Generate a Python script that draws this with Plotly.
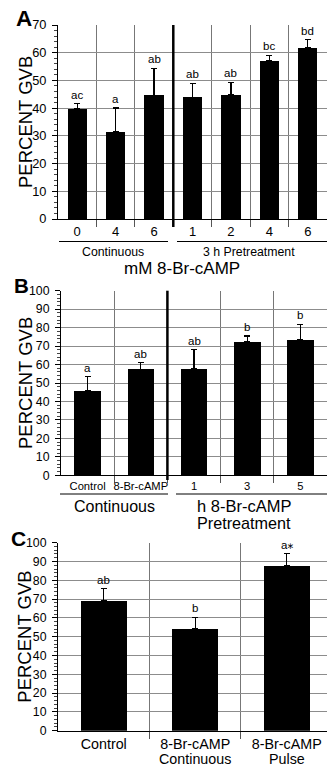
import plotly.graph_objects as go

# ---------------- data ----------------
A_labels = ["0", "4", "6", "1", "2", "4", "6"]
A_vals = [39.7, 31.5, 44.6, 43.9, 44.9, 57.1, 61.8]
A_err = [1.9, 8.5, 9.8, 5.1, 4.4, 1.9, 2.9]
A_letters = ["ac", "a", "ab", "ab", "ab", "bc", "bd"]

B_labels = ["Control", "8-Br-cAMP", "1", "3", "5"]
B_vals = [46.0, 57.5, 58.0, 72.3, 73.3]
B_err = [7.4, 3.5, 10.0, 3.2, 8.5]
B_letters = ["a", "ab", "ab", "b", "b"]

C_labels = ["Control", "8-Br-cAMP", "8-Br-cAMP"]
C_labels_line2 = ["", "Continuous", "Pulse"]
C_vals = [69.0, 54.5, 87.6]
C_err = [6.5, 5.8, 6.6]
C_letters = ["ab", "b", "a⁎"]

W, H = 327, 767
FONT = "Liberation Sans, Arial, DejaVu Sans, sans-serif"


def px(p):
    return p / W


def py(p):
    return 1 - p / H


def label(fig, x, y, text, size, xref="paper", angle=0):
    fig.add_annotation(x=x, y=y, xref=xref, yref="paper", text=text, textangle=angle,
                       showarrow=False, xanchor="center", yanchor="middle",
                       font=dict(size=size, color="black", family=FONT))


fig = go.Figure()

panels = [
    # name, labels, vals, err, letters, xdom_left, ytop, ybot, ymax, xmax, xtickfont, ytickfont
    ("A", A_labels, A_vals, A_err, A_letters, 58, 25, 219, 70, 6.5, 13, 12.8),
    ("B", B_labels, B_vals, B_err, B_letters, 61, 290.7, 475.3, 100, 4.5, 11.2, 12.3),
    ("C", C_labels, C_vals, C_err, C_letters, 58, 542.7, 730.7, 100, 2.44, 14.3, 12.3),
]

layout_axes = {}
for i, (name, labels, vals, err, letters, xl, yt, yb, ymax, xmax, tf, ytf) in enumerate(panels):
    n = len(labels)
    xs = list(range(n))
    suffix = "" if i == 0 else str(i + 1)
    xa = "x" + suffix
    ya = "y" + suffix
    fig.add_trace(go.Bar(
        x=xs, y=vals, width=0.5, marker=dict(color="black", line=dict(width=0)),
        error_y=dict(type="data", array=err, arrayminus=[0] * n, symmetric=False,
                     color="black", thickness=1.3, width=3),
        xaxis=xa, yaxis=ya, showlegend=False, hoverinfo="skip",
    ))
    for j in range(n):
        fig.add_annotation(x=xs[j], y=vals[j] + err[j], xref=xa, yref=ya,
                           text=letters[j], showarrow=False, xanchor="center",
                           yanchor="bottom", yshift=1,
                           font=dict(size=11.5, color="black", family=FONT))
    layout_axes["xaxis" + suffix] = dict(
        domain=[px(xl), 1], anchor=ya, range=[-0.5, xmax], automargin=False,
        tickmode="array", tickvals=xs, ticktext=labels, ticks="",
        showgrid=False, zeroline=False, showline=True, linecolor="black", linewidth=1,
        tickfont=dict(size=tf, color="black", family=FONT),
        minor=dict(tickmode="array", tickvals=[k + 0.5 for k in range(n - 1)],
                   ticks="outside", ticklen=7, tickcolor="#555", showgrid=True,
                   gridcolor="#777", gridwidth=1),
        fixedrange=True,
    )
    layout_axes["yaxis" + suffix] = dict(
        domain=[py(yb), py(yt)], anchor=xa, range=[0, ymax], automargin=False,
        tickmode="linear", dtick=10, ticks="outside", ticklen=5, tickcolor="black",
        ticklabelstandoff=3,
        showgrid=True, gridcolor="#8c8c8c", gridwidth=1, zeroline=False,
        showline=True, linecolor="black", linewidth=1,
        tickfont=dict(size=ytf, color="black", family=FONT),
        minor=dict(dtick=2, ticks="outside", ticklen=3, tickcolor="#444", showgrid=False),
        fixedrange=True,
    )
    # y title
    label(fig, px(25), py((yt + yb) / 2), "PERCENT GVB", 18.5, angle=-90)
    # panel letter
    lt = {"A": (23.5, 18, 22.5), "B": (21.5, 285, 20.5), "C": (18.5, 538, 21)}[name]
    label(fig, px(lt[0]), py(lt[1]), "<b>" + name + "</b>", lt[2])

fig.update_layout(**layout_axes)

# second line of panel C category labels
for j, t in enumerate(C_labels_line2):
    if t:
        label(fig, j, py(759), t, 14.3, xref="x3")

# separators (thick vertical lines)
fig.add_shape(type="line", xref="x", yref="paper", x0=2.5, x1=2.5, y0=py(227), y1=py(25),
              line=dict(color="black", width=2.5))
fig.add_shape(type="line", xref="x2", yref="paper", x0=1.5, x1=1.5, y0=py(480), y1=py(290.7),
              line=dict(color="black", width=2.5))

# group underlines and labels, panel A
for (x0, x1) in [(59, 168), (177, 327)]:
    fig.add_shape(type="line", xref="paper", yref="paper", x0=px(x0), x1=px(x1),
                  y0=py(241.5), y1=py(241.5), line=dict(color="black", width=1))
label(fig, px(113), py(252), "Continuous", 12.3)
label(fig, px(249), py(252), "3 h Pretreatment", 12.3)
label(fig, px(181.5), py(268), "mM 8-Br-cAMP", 17)

# group underlines and labels, panel B
for (x0, x1) in [(60, 168), (176, 327)]:
    fig.add_shape(type="line", xref="paper", yref="paper", x0=px(x0), x1=px(x1),
                  y0=py(494), y1=py(494), line=dict(color="black", width=1))
label(fig, px(114), py(506.5), "Continuous", 16)
label(fig, px(243.5), py(506), "h 8-Br-cAMP", 16.5)
label(fig, px(243.5), py(523), "Pretreatment", 16.2)

fig.update_layout(
    width=W, height=H, margin=dict(l=0, r=0, t=0, b=0, autoexpand=False),
    paper_bgcolor="white", plot_bgcolor="white",
    bargap=0, showlegend=False,
    font=dict(family=FONT, color="black"),
)

fig.write_html("out.html", config={"displayModeBar": False},
               post_script="document.body.style.margin='0';")
